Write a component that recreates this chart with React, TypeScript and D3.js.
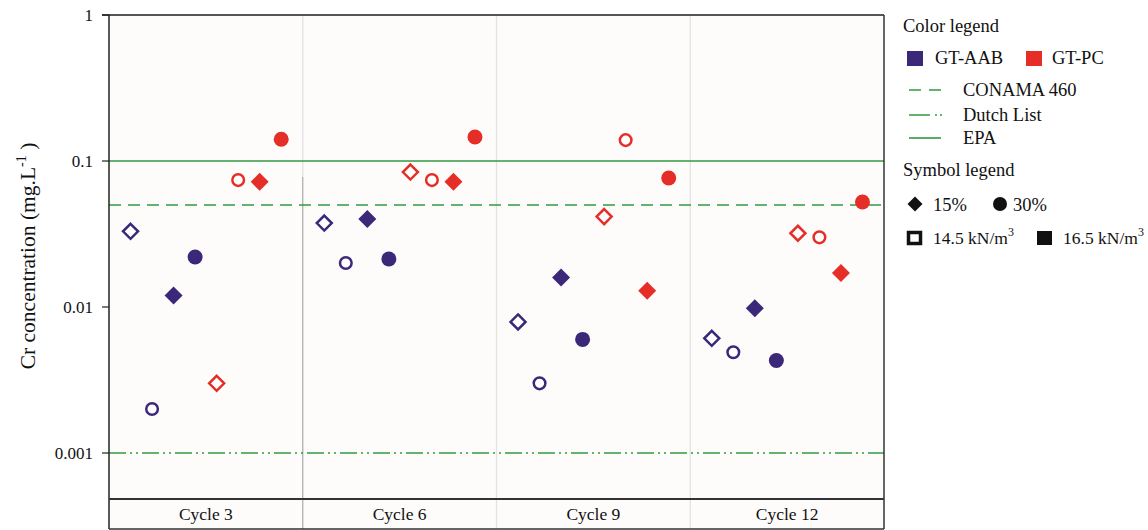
import React from 'react';
import * as d3 from 'd3';

// categories and series
const cycles = ['Cycle 3', 'Cycle 6', 'Cycle 9', 'Cycle 12'];
const seriesKeys = [
  'AAB-14.5-15', 'AAB-14.5-30', 'AAB-16.5-15', 'AAB-16.5-30',
  'PC-14.5-15', 'PC-14.5-30', 'PC-16.5-15', 'PC-16.5-30',
];
const seriesMaterial = ['AAB', 'AAB', 'AAB', 'AAB', 'PC', 'PC', 'PC', 'PC'];
const seriesShape = ['diamond', 'circle', 'diamond', 'circle', 'diamond', 'circle', 'diamond', 'circle'];
const seriesFilled = [false, false, true, true, false, false, true, true];

// Cr concentration (mg/L), one row per cycle, columns follow seriesKeys
const cycle3 = [0.033, 0.002, 0.012, 0.022, 0.003, 0.074, 0.072, 0.141];
const cycle6 = [0.0376, 0.02, 0.04, 0.0213, 0.084, 0.074, 0.072, 0.146];
const cycle9 = [0.0079, 0.003, 0.0159, 0.006, 0.0416, 0.139, 0.0129, 0.0765];
const cycle12 = [0.0061, 0.0049, 0.0098, 0.0043, 0.032, 0.03, 0.0171, 0.0524];
const values = [cycle3, cycle6, cycle9, cycle12];

// limits
const limitNames = ['CONAMA 460', 'Dutch List', 'EPA'];
const limitValues = [0.05, 0.001, 0.1];

const yTicks = [1, 0.1, 0.01, 0.001];

const BLUE = '#3b2878';
const RED = '#e42e27';
const GREEN = '#2f9a40';
const FONT = '"Liberation Serif", "Times New Roman", serif';

const dashFor = (name: string) =>
  name === 'CONAMA 460' ? '12 7' : name === 'Dutch List' ? '17 4 2 4 2 4' : null;

export default function App() {
  const left = 109;
  const right = 884;
  const top = 15;
  const plotBottom = 499;
  const bandBottom = 529;

  const y = d3.scaleLog().domain([0.001, 1]).range([453, top]);
  const x = d3.scaleBand().domain(cycles).range([left, right]).padding(0);
  const inner = d3.scalePoint().domain(seriesKeys).range([0, x.bandwidth()]).padding(1);
  const color = (m: string) => (m === 'AAB' ? BLUE : RED);
  const diamond = (cx: number, cy: number, r: number) =>
    `M${cx},${cy - r}L${cx + r},${cy}L${cx},${cy + r}L${cx - r},${cy}Z`;

  const marker = (i: number, cx: number, cy: number, key: string) => {
    const c = color(seriesMaterial[i]);
    const filled = seriesFilled[i];
    if (seriesShape[i] === 'circle') {
      return filled ? (
        <circle key={key} cx={cx} cy={cy} r={7.5} fill={c} />
      ) : (
        <circle key={key} cx={cx} cy={cy} r={5.8} fill="white" stroke={c} strokeWidth={2.5} />
      );
    }
    return filled ? (
      <path key={key} d={diamond(cx, cy, 9)} fill={c} />
    ) : (
      <path key={key} d={diamond(cx, cy, 7.5)} fill="white" stroke={c} strokeWidth={2.5} />
    );
  };

  const lx = 903;

  return (
    <svg width={1148} height={530} style={{ position: 'absolute', left: 0, top: 0 }} fontFamily={FONT}>
      <rect x={0} y={0} width={1148} height={530} fill="white" />
      <rect x={left} y={top} width={right - left} height={bandBottom - top} fill="#fdfcfb" />

      {/* cycle separators */}
      {cycles.slice(1).map((c) => (
        <line key={c} x1={x(c)} x2={x(c)} y1={top} y2={bandBottom} stroke="#e2e2e2" strokeWidth={1.3} />
      ))}
      <line x1={x(cycles[1])} x2={x(cycles[1])} y1={177} y2={bandBottom} stroke="#a8a8a8" strokeWidth={1} />

      {/* limit lines */}
      {limitNames.map((n, i) => (
        <line
          key={n}
          x1={left}
          x2={right}
          y1={y(limitValues[i])}
          y2={y(limitValues[i])}
          stroke={GREEN}
          strokeWidth={1.6}
          strokeDasharray={dashFor(n) || undefined}
        />
      ))}

      {/* points */}
      {values.map((row, ci) =>
        row.map((v, si) =>
          marker(si, (x(cycles[ci]) as number) + (inner(seriesKeys[si]) as number), y(v), `${ci}-${si}`)
        )
      )}

      {/* frame */}
      <line x1={102} x2={right} y1={top} y2={top} stroke="#555" strokeWidth={2} />
      <line x1={left} x2={left} y1={top} y2={bandBottom} stroke="#222" strokeWidth={1.5} />
      <line x1={right} x2={right} y1={top} y2={bandBottom} stroke="#333" strokeWidth={1.5} />
      <line x1={left} x2={right} y1={plotBottom} y2={plotBottom} stroke="#333" strokeWidth={2} />
      <line x1={left} x2={right} y1={bandBottom} y2={bandBottom} stroke="#333" strokeWidth={1.5} />

      {/* y ticks */}
      {yTicks.map((t) => (
        <g key={t}>
          <line x1={102} x2={left} y1={y(t)} y2={y(t)} stroke="#222" strokeWidth={1.2} />
          <text x={93} y={y(t)} dy="0.33em" textAnchor="end" fontSize={17} fill="#111">
            {String(t)}
          </text>
        </g>
      ))}

      {/* category labels */}
      {cycles.map((c) => (
        <text
          key={c}
          x={(x(c) as number) + x.bandwidth() / 2}
          y={(plotBottom + bandBottom) / 2}
          dy="0.35em"
          textAnchor="middle"
          fontSize={17.5}
          fill="#111"
        >
          {c}
        </text>
      ))}

      {/* y title */}
      <text transform="translate(35,256) rotate(-90)" textAnchor="middle" fontSize={21.5} fill="#111">
        Cr concentration (mg.L
        <tspan dy={-9} fontSize={14}>-1</tspan>
        <tspan dy={9}> )</tspan>
      </text>

      {/* legend */}
      <g fontSize={18.5} fill="#111">
        <text x={lx} y={32}>Color legend</text>
        <rect x={907} y={51} width={16} height={15} fill={BLUE} />
        <text x={935} y={64}>GT-AAB</text>
        <rect x={1026} y={51} width={16} height={15} fill={RED} />
        <text x={1052} y={64}>GT-PC</text>

        {limitNames.map((n, i) => {
          const ly = [90, 115, 138][i];
          return (
            <g key={n}>
              <line
                x1={909}
                x2={n === 'Dutch List' ? 942 : 941}
                y1={ly}
                y2={ly}
                stroke={GREEN}
                strokeWidth={1.6}
                strokeDasharray={n === 'CONAMA 460' ? '12 8' : n === 'Dutch List' ? '21 5 2 3 2 40' : undefined}
              />
              <text x={963} y={ly + 6}>{n}</text>
            </g>
          );
        })}

        <text x={lx} y={176}>Symbol legend</text>
        <path d={diamond(915, 204, 7.5)} fill="#111" />
        <text x={933} y={211}>15%</text>
        <circle cx={1000} cy={204} r={7} fill="#111" />
        <text x={1013} y={211}>30%</text>
        <rect x={908.5} y={232.5} width={12} height={11} fill="white" stroke="#111" strokeWidth={3.5} />
        <text x={933} y={244} fontSize={17.5}>
          14.5 kN/m<tspan dy={-8} fontSize={12}>3</tspan>
        </text>
        <rect x={1037} y={231} width={15} height={14} fill="#111" />
        <text x={1063} y={244} fontSize={17.5}>
          16.5 kN/m<tspan dy={-8} fontSize={12}>3</tspan>
        </text>
      </g>
    </svg>
  );
}
